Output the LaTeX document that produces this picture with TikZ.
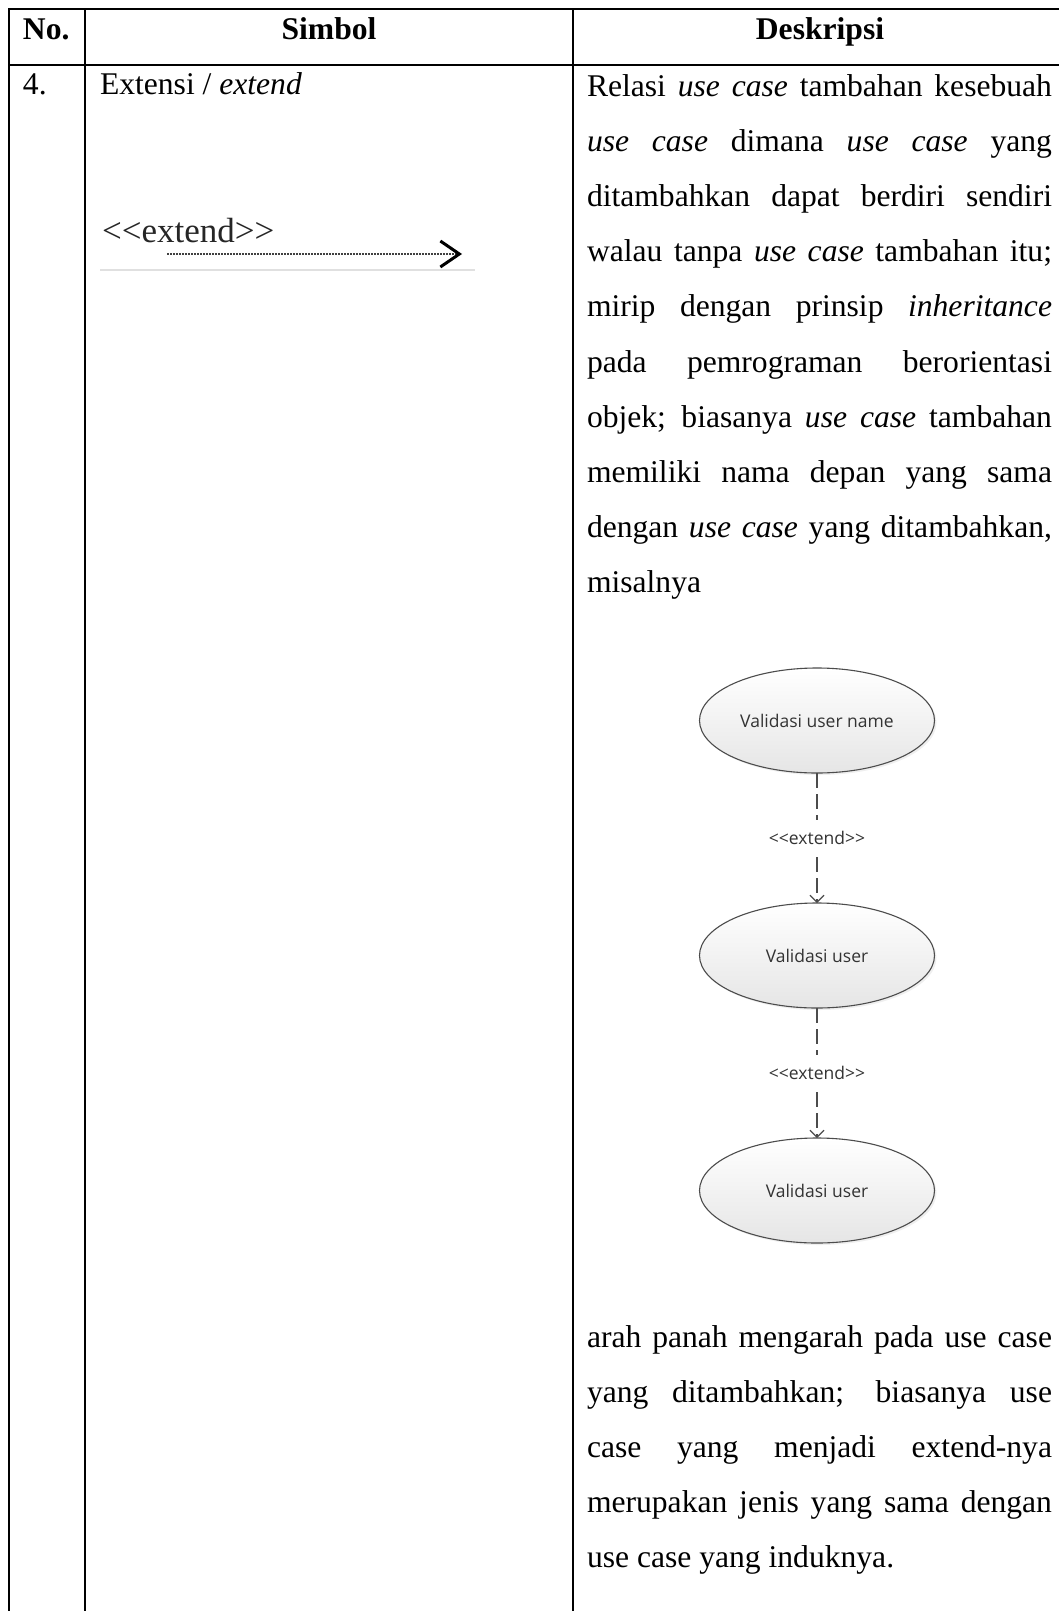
\documentclass[tikz,border=0pt]{standalone}
\usepackage{fontspec}
\setmainfont{Liberation Serif}
\newfontfamily\uifont{Open Sans}
\usetikzlibrary{shapes.geometric,arrows.meta,shadows}
\newcommand\extlbltxt{<\kern0pt<extend>\kern0pt>}
\begin{document}
\begin{tikzpicture}[x=1pt,y=-1pt,
  tbl/.style={line width=2.7pt,draw=black,line join=miter},
  txt/.style={inner sep=0pt,outer sep=0pt,font=\fontsize{31.6pt}{55.2pt}\selectfont},
  hdr/.style={txt,font=\fontsize{31.6pt}{55.2pt}\selectfont\bfseries},
  uc/.style={ellipse,draw=black!70,line width=1.1pt,minimum width=235pt,minimum height=105pt,
    inner sep=0pt,outer sep=0pt,top color=white,bottom color=black!10,
    text=black!80,font=\uifont\fontsize{17.5pt}{20pt}\selectfont,
    drop shadow={shadow xshift=2pt,shadow yshift=-2pt,opacity=0.12}},
  extconn/.style={draw=black!70,line width=1.1pt,dash pattern=on 15pt off 6pt,
    -{Straight Barb[length=7pt,width=14pt]}},
  extlbl/.style={fill=white,inner xsep=2pt,inner ysep=11pt,text=black!80,
    font=\uifont\fontsize{17.5pt}{20pt}\selectfont}
]
\useasboundingbox (0,0) rectangle (1059,1611);
\fill[white] (0,0) rectangle (1059,1611);

% table rules
\draw[tbl] (1075,9) -- (9,9) -- (9,1625);
\draw[tbl] (9,65) -- (1075,65);
\draw[tbl] (85,9) -- (85,1625);
\draw[tbl] (573,9) -- (573,1625);

% header
\node[hdr,anchor=base west] (hno) at (23,40) {No.};
\node[hdr,anchor=base] (hsim) at (329,40) {Simbol};
\node[hdr,anchor=base] (hdesk) at (820,40) {Deskripsi};

% row
\node[txt,anchor=base west] (no4) at (23,95) {4.};
\node[txt,anchor=base west] (ext) at (100,95) {Extensi / \textit{extend}};

% symbol
\node[inner sep=0pt,anchor=base west,text=black!85,font=\fontsize{35pt}{40pt}\selectfont] (symtext) at (102,242) {\extlbltxt};
\coordinate (ds) at (167,254);
\coordinate (de) at (462,254);
\draw[draw=black!75,line width=2.4pt,dash pattern=on 1.6pt off 1.4pt,
  -{Straight Barb[length=19pt,width=26pt,line width=3pt,color=black]}] (ds) -- (de);
\coordinate (u1) at (100,270);
\coordinate (u2) at (475,270);
\draw[black!12,line width=1.5pt] (u1) -- (u2);

% description
\node[txt,anchor=base west] (desc1) at (587,96) {\parbox[t]{465pt}{%
\makebox[465pt][s]{Relasi \textit{use case} tambahan kesebuah}\\
\makebox[465pt][s]{\textit{use case} dimana \textit{use case} yang}\\
\makebox[465pt][s]{ditambahkan dapat berdiri sendiri}\\
\makebox[465pt][s]{walau tanpa \textit{use case} tambahan itu;}\\
\makebox[465pt][s]{mirip dengan prinsip \textit{inheritance}}\\
\makebox[465pt][s]{pada pemrograman berorientasi}\\
\makebox[465pt][s]{objek; biasanya \textit{use case} tambahan}\\
\makebox[465pt][s]{memiliki nama depan yang sama}\\
\makebox[465pt][s]{dengan \textit{use case} yang ditambahkan,}\\
misalnya}};

% use case example
\node[uc] (e1) at (817,720.5) {Validasi user name};
\node[uc] (e2) at (817,955.5) {Validasi user};
\node[uc] (e3) at (817,1190.5) {Validasi user};
\draw[extconn] (e1) -- node[extlbl] (l1) {\extlbltxt} (e2);
\draw[extconn] (e2) -- node[extlbl] (l2) {\extlbltxt} (e3);

% description continued
\node[txt,anchor=base west] (desc2) at (587,1347) {\parbox[t]{465pt}{%
\makebox[465pt][s]{arah panah mengarah pada use case}\\
\makebox[465pt][s]{yang ditambahkan; biasanya use}\\
\makebox[465pt][s]{case yang menjadi extend-nya}\\
\makebox[465pt][s]{merupakan jenis yang sama dengan}\\
use case yang induknya.}};
\end{tikzpicture}
\end{document}
